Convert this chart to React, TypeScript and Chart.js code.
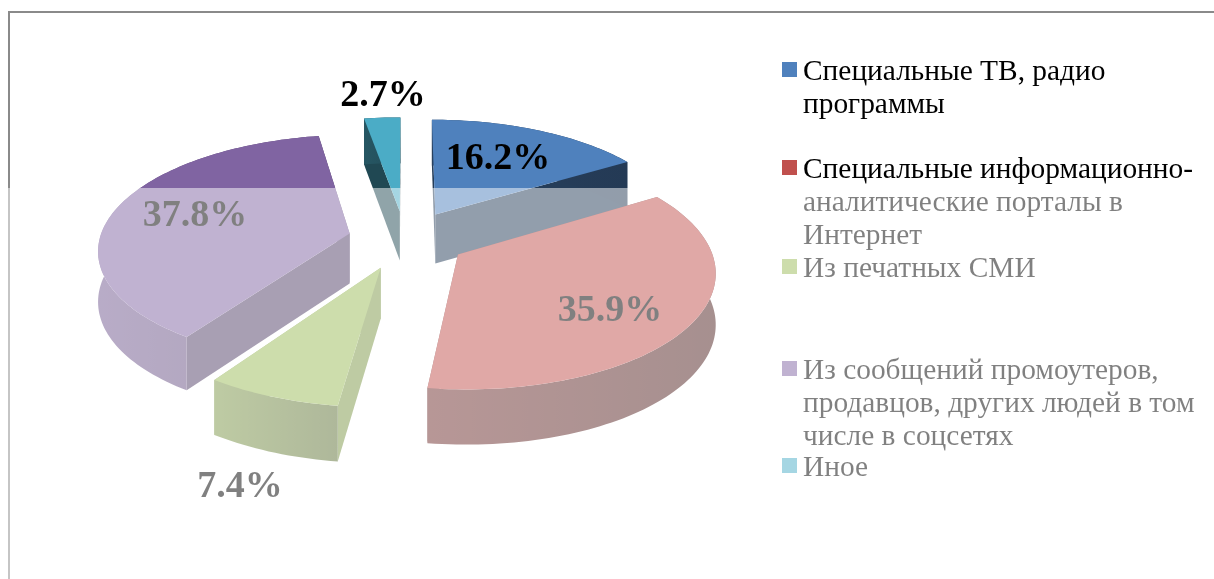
import React, { useEffect, useRef } from "react";
import { Chart, registerables } from "chart.js";

Chart.register(...registerables);

const categories = [
  "Специальные ТВ, радио программы",
  "Специальные информационно-аналитические порталы в Интернет",
  "Из печатных СМИ",
  "Из сообщений промоутеров, продавцов, других людей в том числе в соцсетях",
  "Иное",
];
const legendLines = [
  ["Специальные ТВ, радио", "программы"],
  ["Специальные информационно-", "аналитические порталы в", "Интернет"],
  ["Из печатных СМИ"],
  ["Из сообщений промоутеров,", "продавцов, других людей в том", "числе в соцсетях"],
  ["Иное"],
];
const shareValues = [16.2, 35.9, 7.4, 37.8, 2.7];
const sliceColors = ["#4F81BD", "#C0504D", "#9BBB59", "#8064A2", "#4BACC6"];

// Styling of the extruded pie
const explodeOffsets = [64, 62, 66, 57, 63];
const cutShade = [0.47, 0.5, 0.8, 0.63, 0.42];
const rimShadeLeft = [0.5, 0.58, 0.8, 0.88, 0.5];
const rimShadeRight = [0.45, 0.4, 0.6, 0.7, 0.45];
const paintOrder = [4, 0, 3, 2, 1];
const labelCenters = [
  [498, 156],
  [610, 308],
  [240, 484],
  [195, 213],
  [383, 93],
];
const legendBaselines = [80, 178, 277, 379, 476];

const SCREEN_R = 250;
const CX = 405;
const CY = 239;
const SQUASH = 113;
const PERSPECTIVE = 0.13;
const WALL = 50;
const SERIF = '"Liberation Serif", "Times New Roman", serif';

function project(u: number, v: number) {
  const w = 1 / (1 - PERSPECTIVE * v);
  return { x: CX + SCREEN_R * u * w, y: CY + SQUASH * v * w, w };
}
const drop = (p: { x: number; y: number; w: number }) => ({
  x: p.x,
  y: p.y + WALL * (1 + (p.w - 1) * 0.6),
  w: p.w,
});

function shade(hex: string, f: number) {
  const n = parseInt(hex.slice(1), 16);
  const c = [(n >> 16) & 255, (n >> 8) & 255, n & 255].map((k) => Math.round(k * f));
  return `rgb(${c[0]},${c[1]},${c[2]})`;
}

type P = { x: number; y: number; w: number };
function fillPath(ctx: CanvasRenderingContext2D, pts: P[], style: string | CanvasGradient) {
  ctx.beginPath();
  pts.forEach((p, i) => (i ? ctx.lineTo(p.x, p.y) : ctx.moveTo(p.x, p.y)));
  ctx.closePath();
  ctx.fillStyle = style;
  ctx.fill();
}

const pie3d = {
  id: "pie3d",
  beforeDatasetsDraw(chart: any) {
    const ctx: CanvasRenderingContext2D = chart.ctx;
    const meta = chart.getDatasetMeta(0);
    ctx.save();
    for (const i of paintOrder) {
      const el = meta.data[i];
      const mid = (el.startAngle + el.endAngle) / 2;
      const off = el.options.offset / SCREEN_R;
      const ou = Math.cos(mid) * off;
      const ov = Math.sin(mid) * off;
      const steps = Math.max(6, Math.ceil((el.endAngle - el.startAngle) * 40));
      const arc: P[] = [];
      for (let s = 0; s <= steps; s++) {
        const a = el.startAngle + ((el.endAngle - el.startAngle) * s) / steps;
        arc.push(project(ou + Math.cos(a), ov + Math.sin(a)));
      }
      const apex = project(ou, ov);
      const base = sliceColors[i];
      const first = arc[0];
      const last = arc[arc.length - 1];
      fillPath(ctx, [apex, first, drop(first), drop(apex)], shade(base, cutShade[i]));
      fillPath(ctx, [apex, last, drop(last), drop(apex)], shade(base, cutShade[i]));
      const xs = arc.map((p) => p.x);
      const g = ctx.createLinearGradient(Math.min(...xs), 0, Math.max(...xs), 0);
      g.addColorStop(0, shade(base, rimShadeLeft[i]));
      g.addColorStop(1, shade(base, rimShadeRight[i]));
      fillPath(ctx, [...arc, ...arc.map(drop).reverse()], g);
      fillPath(ctx, [apex, ...arc], base);
    }
    ctx.restore();
    return false;
  },
  afterDraw(chart: any) {
    const ctx: CanvasRenderingContext2D = chart.ctx;
    const meta = chart.getDatasetMeta(0);
    ctx.save();
    // frame
    ctx.fillStyle = "#8a8a8a";
    ctx.fillRect(8, 11, chart.width - 8, 2);
    ctx.fillRect(8, 11, 2, chart.height - 11);
    // data labels
    ctx.fillStyle = "#000";
    ctx.font = `bold 38px ${SERIF}`;
    ctx.textAlign = "center";
    ctx.textBaseline = "alphabetic";
    meta.data.forEach((_: any, i: number) => {
      const [x, y] = labelCenters[i];
      ctx.fillText(`${shareValues[i].toFixed(1)}%`, x, y + 13);
    });
    // legend
    ctx.textAlign = "left";
    ctx.font = `29.4px ${SERIF}`;
    legendLines.forEach((lines, i) => {
      const b = legendBaselines[i];
      ctx.fillStyle = sliceColors[i];
      ctx.fillRect(782, b - 18, 15, 15);
      ctx.fillStyle = "#000";
      lines.forEach((t, j) => ctx.fillText(t, 803, b + j * 33));
    });
    // translucent sheet on the lower part
    ctx.fillStyle = "rgba(255,255,255,0.5)";
    ctx.fillRect(0, 188, chart.width, chart.height - 188);
    ctx.restore();
  },
};

export default function App() {
  const ref = useRef<HTMLCanvasElement>(null);
  useEffect(() => {
    const chart = new Chart(ref.current!, {
      type: "pie",
      data: {
        labels: categories,
        datasets: [
          {
            data: shareValues,
            backgroundColor: sliceColors,
            offset: explodeOffsets,
            borderWidth: 0,
          },
        ],
      },
      options: {
        animation: false,
        responsive: false,
        plugins: { legend: { display: false }, tooltip: { enabled: false } },
      },
      plugins: [pie3d],
    } as any);
    return () => chart.destroy();
  }, []);
  return (
    <div style={{ position: "fixed", left: 0, top: 0, width: 1214, height: 579, background: "#fff" }}>
      <canvas ref={ref} width={1214} height={579} style={{ display: "block" }} />
    </div>
  );
}
